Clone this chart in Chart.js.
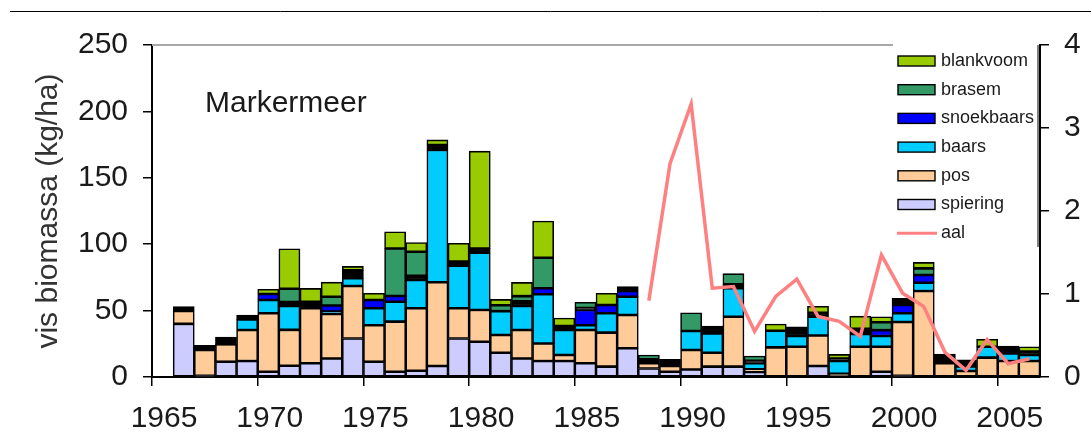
<!DOCTYPE html>
<html>
<head>
<meta charset="utf-8">
<script src="https://cdn.jsdelivr.net/npm/chart.js@4"></script>
<style>
  body { margin: 0; background: #fff; }
  #wrap { width: 1091px; height: 436px; }
</style>
</head>
<body>
<div id="wrap"><canvas id="vis"></canvas></div>
<script>
var jaren = [1966,1967,1968,1969,1970,1971,1972,1973,1974,1975,1976,1977,1978,1979,1980,1981,1982,1983,1984,1985,1986,1987,1988,1989,1990,1991,1992,1993,1994,1995,1996,1997,1998,1999,2000,2001,2002,2003,2004,2005,2006];

var spiering   = [40,1,11.5,12,4,8.5,10.3,14,29,11.5,4,4.7,8.3,29,26.6,18.3,14,12,12,10.3,7.8,21.6,6.4,4,5.7,7.8,7.8,3.8,0,0,8.3,0,0,4,1,0,0,0,0,0,0];
var pos        = [9.7,19.3,13.1,23.4,44,27,41.4,33.4,39.5,27.5,37.7,47,63,22.7,23.9,13.3,21.4,13.3,4.6,25.1,25.6,25.1,3.9,4.3,14.6,10.5,37.6,2,22.3,22.8,23,2.5,22.8,18.8,40.4,64.7,10.3,4.5,14.6,12,12];
var baars      = [0,0,0,8,10,18,0,2,5.8,12.7,15,21.3,99.7,32,43,18,18,37,18.8,3.6,14.6,13.8,0,0,14.3,14.5,21.4,4.5,12.6,8,14,9.5,9.6,8,6.6,6.3,0,3.5,8.2,5.8,4.6];
var snoekbaars = [0,0,0,0,4.5,0,0,4.5,0,6.3,4.3,0,0,0,0,0,0,4.5,0,11.5,6.2,4.3,0,0,0,0,0,0,0,0,0,0,0,4.5,6.2,5.8,0,0,0,0,0];
var overig     = [3.3,3.5,5.5,3.3,0,3,5,0,6,0,0,3.3,3.7,3.2,3.2,0,3.7,0,3,1.5,0,3.2,3,5,0,5.6,3,2,0,7,3,2,4,0,5,0,7,5,0,5.5,2.5];
var brasem     = [0,0,0,0,0,10,0,6.5,0,0,35.8,18,0,0,0,4.5,3.8,23,0,4.3,0,0,3.3,0,13.8,0,8,3.5,0,0,0,0,0,6,0,5,0,0,0,0,0];
var blankvoom  = [0,0,0,0,3.5,30,10,11,3,5,12.6,7,3.8,13.8,73.4,4.3,10.3,27.7,6,0,8.8,0,0,0,0,0,0,0,5,0,5,3,9.4,4,0,4.5,0,0,5.6,0,3.7];
var aal        = [null,null,null,null,null,null,null,null,null,null,null,null,null,null,null,null,null,null,null,null,null,null,0.92,2.57,3.29,1.07,1.09,0.55,0.97,1.18,0.73,0.67,0.49,1.47,1.01,0.85,0.30,0.08,0.45,0.16,0.22];

var xTicks = [1965,1970,1975,1980,1985,1990,1995,2000,2005];
var yTicks = [0,50,100,150,200,250];
var aalTicks = [0,1,2,3,4];

var FONT = '"Liberation Sans", Arial, sans-serif';
var INK = '#1a1a1a';

function punten(arr) {
  return arr.map(function (v, i) {
    return { x: jaren[i] + 0.5, y: (v === 0 ? null : v) };
  });
}

function staaf(label, arr, kleur) {
  return {
    type: 'bar',
    label: label,
    data: punten(arr),
    backgroundColor: kleur,
    borderColor: '#000',
    borderWidth: 1.6,
    borderSkipped: false,
    barPercentage: 1,
    categoryPercentage: 1,
    yAxisID: 'y'
  };
}

var legendItems = [
  { label: 'blankvoom', kleur: '#99CC00' },
  { label: 'brasem', kleur: '#339966' },
  { label: 'snoekbaars', kleur: '#0000FF' },
  { label: 'baars', kleur: '#00CCFF' },
  { label: 'pos', kleur: '#FFCC99' },
  { label: 'spiering', kleur: '#CCCCFF' },
  { label: 'aal', kleur: '#FF8080', lijn: true }
];

var extras = {
  id: 'extras',
  afterDraw: function (chart) {
    var c = chart.ctx;
    var a = chart.chartArea;
    c.save();
    // line across the top of the figure
    c.strokeStyle = '#000';
    c.lineWidth = 1;
    c.beginPath();
    c.moveTo(10, 11.5);
    c.lineTo(1091, 11.5);
    c.stroke();
    // top border of the plot
    c.strokeStyle = '#a8a8a8';
    c.lineWidth = 2;
    c.beginPath();
    c.moveTo(a.left, a.top);
    c.lineTo(893, a.top);
    c.stroke();
    // lake name
    c.fillStyle = INK;
    c.font = '30px ' + FONT;
    c.textAlign = 'left';
    c.textBaseline = 'alphabetic';
    c.fillText('Markermeer', 205, 112);
    // legend
    c.strokeStyle = '#555';
    c.lineWidth = 1.5;
    c.beginPath();
    c.moveTo(1038, a.top);
    c.lineTo(1038, 247);
    c.stroke();
    c.font = '18px ' + FONT;
    c.textBaseline = 'middle';
    legendItems.forEach(function (it, i) {
      var y = 61 + i * 28.7;
      if (it.lijn) {
        c.strokeStyle = it.kleur;
        c.lineWidth = 3;
        c.beginPath();
        c.moveTo(897, y);
        c.lineTo(937, y);
        c.stroke();
      } else {
        c.fillStyle = it.kleur;
        c.fillRect(898, y - 5, 37, 10);
        c.strokeStyle = '#000';
        c.lineWidth = 1.4;
        c.strokeRect(898, y - 5, 37, 10);
      }
      c.fillStyle = INK;
      c.fillText(it.label, 941, y);
    });
    c.restore();
  }
};

new Chart(document.getElementById('vis'), {
  data: {
    datasets: [
      {
        type: 'line',
        label: 'aal',
        data: punten(aal),
        borderColor: '#FF8080',
        borderWidth: 3.5,
        pointRadius: 0,
        tension: 0,
        yAxisID: 'y1',
        order: 0
      },
      staaf('spiering', spiering, '#CCCCFF'),
      staaf('pos', pos, '#FFCC99'),
      staaf('baars', baars, '#00CCFF'),
      staaf('snoekbaars', snoekbaars, '#0000FF'),
      staaf('overig', overig, '#000000'),
      staaf('brasem', brasem, '#339966'),
      staaf('blankvoom', blankvoom, '#99CC00')
    ]
  },
  options: {
    responsive: true,
    maintainAspectRatio: false,
    animation: false,
    layout: { padding: { top: 45, left: 0, right: 0, bottom: 0 } },
    plugins: {
      legend: { display: false },
      tooltip: { enabled: false }
    },
    scales: {
      x: {
        type: 'linear',
        stacked: true,
        offset: false,
        min: 1965,
        max: 2007,
        afterBuildTicks: function (s) { s.ticks = xTicks.map(function (v) { return { value: v }; }); },
        afterFit: function (s) { s.height = 59; },
        grid: { offset: false, drawOnChartArea: false, drawTicks: true, tickLength: 9, color: '#000', lineWidth: 1.5 },
        border: { display: true, color: '#000', width: 2 },
        ticks: {
          color: INK,
          font: { family: FONT, size: 30 },
          padding: 15,
          labelOffset: 12,
          maxRotation: 0,
          autoSkip: false,
          callback: function (v) { return String(v); }
        }
      },
      y: {
        stacked: true,
        position: 'left',
        min: 0,
        max: 250,
        afterBuildTicks: function (s) { s.ticks = yTicks.map(function (v) { return { value: v }; }); },
        afterFit: function (s) { s.width = 152; },
        grid: { drawOnChartArea: false, drawTicks: true, tickLength: 9, color: '#000', lineWidth: 1.5 },
        border: { display: true, color: '#000', width: 2 },
        ticks: { color: INK, font: { family: FONT, size: 30 }, padding: 15 },
        title: {
          display: true,
          text: 'vis biomassa (kg/ha)',
          color: '#333',
          font: { family: FONT, size: 30 },
          padding: { top: 31, bottom: 0 }
        }
      },
      y1: {
        position: 'right',
        min: 0,
        max: 4,
        afterBuildTicks: function (s) { s.ticks = aalTicks.map(function (v) { return { value: v }; }); },
        afterFit: function (s) { s.width = 51; },
        grid: { drawOnChartArea: false, drawTicks: true, tickLength: 9, color: '#000', lineWidth: 1.5 },
        border: { display: true, color: '#000', width: 2 },
        ticks: { color: INK, font: { family: FONT, size: 30 }, padding: 15 }
      }
    }
  },
  plugins: [extras]
});
</script>
</body>
</html>
